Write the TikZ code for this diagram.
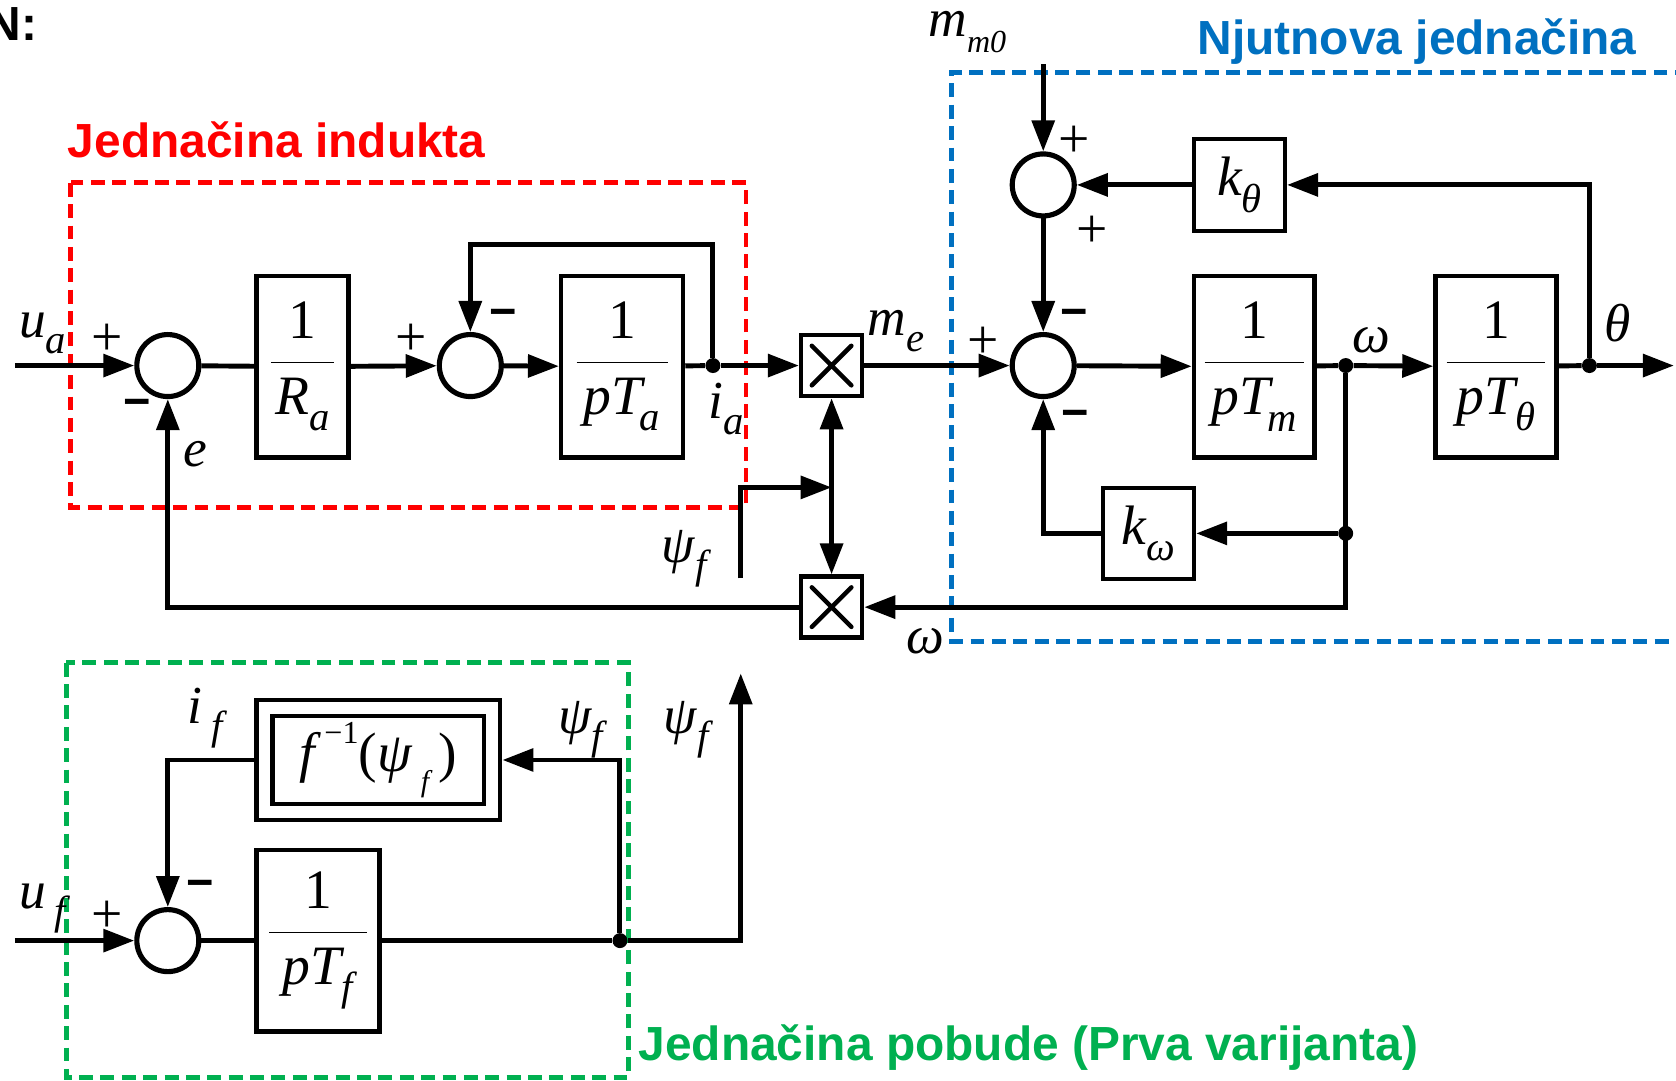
\RequirePackage{fix-cm}
\documentclass[tikz,border=0pt]{standalone}
\usepackage[no-math]{fontspec}
\newfontfamily\labfont{Liberation Sans}
\newfontfamily\mf{Liberation Serif}
\usetikzlibrary{arrows.meta}
\definecolor{cred}{RGB}{255,0,0}
\definecolor{cblue}{RGB}{0,112,192}
\definecolor{cgreen}{RGB}{0,176,80}
\newcommand{\lvar}[2]{{\mf\itshape #1\raisebox{-0.3em}{\fontsize{19}{20}\selectfont #2}}}
\newcommand{\lvarsm}[2]{{\mf\itshape #1\raisebox{-0.3em}{\fontsize{15}{16}\selectfont #2}}}
\newcommand{\bfr}[2]{$\displaystyle\frac{\mbox{\mf 1}}{\makebox[#1]{#2}}$}
\begin{document}
\begin{tikzpicture}[x=0.5pt,y=-0.5pt,
  ln/.style={line width=2.3pt},
  ar/.style={ln,-{Triangle[length=14.5pt,width=10.5pt]}},
  blk/.style={draw,line width=2.1pt,inner sep=0pt,font=\fontsize{26}{30}\selectfont},
  sumn/.style={draw,circle,line width=2.4pt,minimum size=29pt,inner sep=0pt},
  mul/.style={draw,line width=2.1pt,minimum size=28.5pt,inner sep=0pt,
    path picture={\draw[line width=2.1pt,line cap=round]
      ([shift={(5pt,-5pt)}]path picture bounding box.north west) -- ([shift={(-5pt,5pt)}]path picture bounding box.south east)
      ([shift={(-5pt,-5pt)}]path picture bounding box.north east) -- ([shift={(5pt,5pt)}]path picture bounding box.south west);}},
  dot/.style={circle,fill,inner sep=0pt,minimum size=7pt},
  lbl/.style={font=\fontsize{25}{29}\selectfont,inner sep=0pt},
  sgn/.style={font=\mf\fontsize{26}{28}\selectfont,inner sep=0pt},
  msg/.style={font=\labfont\bfseries\fontsize{22}{26}\selectfont,inner sep=0pt},
  ttl/.style={font=\labfont\bfseries\fontsize{22.4}{26}\selectfont,inner sep=0pt},
  dsh/.style={line width=2.2pt,dash pattern=on 6.5pt off 3.5pt}]
\useasboundingbox (0,0) rectangle (1568,1011);

% titles and group boxes
\node[ttl,anchor=base east] (tN) at (35,38) {N:};
\node[ttl,text=cred,anchor=base west] (tRed) at (63,147) {Jednačina indukta};
\node[ttl,text=cblue,anchor=base west] (tBlue) at (1120,51) {Njutnova jednačina};
\node[ttl,text=cgreen,anchor=base west] (tGreen) at (597,992) {Jednačina pobude (Prva varijanta)};
\draw[dsh,cred] (66,171) rectangle (698,475);
\draw[dsh,cblue] (1580,68) -- (890,68) -- (890,600) -- (1580,600);
\draw[dsh,cgreen] (62,620) rectangle (588,1008);

% armature equation
\node[sumn] (sumA) at (157,342) {};
\node[blk,minimum width=43pt,minimum height=85pt] (Ra) at (283,343) {\bfr{29.5pt}{\lvar{R}{a}}};
\node[sumn] (sumB) at (440,342) {};
\node[blk,minimum width=57pt,minimum height=85pt] (Ta) at (582,343) {\bfr{42.5pt}{\lvar{pT\kern-0.05em}{a}}};
\node[dot] (dotIa) at (667,342) {};
\node[mul] (multA) at (778,342) {};
\node[mul] (multB) at (778,568) {};

% Newton equation
\node[sumn] (sumC) at (976,342) {};
\node[sumn] (sumD) at (976,173) {};
\node[blk,minimum width=56.5pt,minimum height=85pt] (Tm) at (1173.5,343) {\bfr{46.5pt}{\lvar{pT\kern-0.05em}{m}}};
\node[dot] (dotW) at (1259,342) {};
\node[blk,minimum width=56.5pt,minimum height=85pt] (Tth) at (1399.5,343) {\bfr{46pt}{\lvar{pT}{θ}}};
\node[dot] (dotTh) at (1487,342) {};
\node[blk,minimum width=42.5pt,minimum height=43pt] (kth) at (1159.5,173) {\lvar{k}{θ}};
\node[blk,minimum width=42.5pt,minimum height=42.5pt] (kw) at (1074.5,499) {\lvar{k}{ω}};
\node[dot] (dotW2) at (1259,499) {};

% excitation
\node[sumn] (sumE) at (157,880) {};
\node[blk,minimum width=57.5pt,minimum height=85pt] (Tf) at (297.5,880) {\bfr{45.5pt}{\lvar{pT}{f}}};
\node[dot] (dotPsi) at (580,880) {};
\node[draw,line width=2.1pt,minimum width=114pt,minimum height=56pt,inner sep=0pt] (finv) at (354,711) {};
\node[blk,minimum width=99pt,minimum height=41pt] (finvIn) at (354,711)
  {{\mf\itshape f\,\raisebox{0.5em}{\fontsize{15}{16}\selectfont\upshape −1}\upshape(\itshape ψ\,\raisebox{-0.35em}{\fontsize{14}{15}\selectfont f}\,\upshape)}};

% free ends
\coordinate (ua) at (14,342);
\coordinate (uf) at (14,880);
\coordinate (thOut) at (1566,342);
\coordinate (mm0) at (976,60);
\coordinate (fbA) at (667,229);
\coordinate (psiS) at (693,541);
\coordinate (psiJ) at (778,456);
\coordinate (psiOut) at (693,630);

% connectors, armature
\draw[ar] (ua) -- (sumA);
\draw[ln] (sumA) -- (Ra);
\draw[ar] (Ra) -- (sumB);
\draw[ar] (sumB) -- (Ta);
\draw[ln] (Ta) -- (dotIa);
\draw[ar] (dotIa) -- (multA);
\draw[ar] (dotIa) -- (fbA) -| (sumB);
\draw[ln,{Triangle[length=14.5pt,width=10.5pt]}-{Triangle[length=14.5pt,width=10.5pt]}] (multA) -- (multB);
\draw[ar] (psiS) |- (psiJ);
\draw[ar] (multB) -| (sumA);

% connectors, Newton
\draw[ar] (multA) -- (sumC);
\draw[ar] (sumC) -- (Tm);
\draw[ln] (Tm) -- (dotW);
\draw[ar] (dotW) -- (Tth);
\draw[ln] (Tth) -- (dotTh);
\draw[ar] (dotTh) -- (thOut);
\draw[ar] (dotTh) |- (kth);
\draw[ar] (kth) -- (sumD);
\draw[ar] (mm0) -- (sumD);
\draw[ar] (sumD) -- (sumC);
\draw[ar] (dotW) |- (multB);
\draw[ar] (dotW2) -- (kw);
\draw[ar] (kw) -| (sumC);

% connectors, excitation
\draw[ar] (uf) -- (sumE);
\draw[ln] (sumE) -- (Tf);
\draw[ln] (Tf) -- (dotPsi);
\draw[ar] (dotPsi) -| (psiOut);
\draw[ar] (dotPsi) |- (finv);
\draw[ar] (finv) -| (sumE);

% labels
\node[lbl] (lua) at (40,312) {\lvar{u}{a}};
\node[lbl] (le) at (183,425) {{\mf\itshape e}};
\node[lbl] (lia) at (679,383) {\lvar{i}{a}};
\node[lbl] (lme) at (838,310) {\lvar{m}{e}};
\node[lbl] (lpsi1) at (640,523) {\lvar{ψ}{f}};
\node[lbl] (lmm0) at (905,30) {\lvarsm{m}{m0}};
\node[lbl] (lw1) at (1283,318) {{\mf\itshape ω}};
\node[lbl] (lth) at (1513,302) {{\mf\itshape θ}};
\node[lbl] (lw2) at (866,600) {{\mf\itshape ω}};
\node[lbl] (luf) at (40,850) {\lvar{u\,}{f}};
\node[lbl] (lif) at (192,672) {\lvar{i\,}{f}};
\node[lbl] (lpsi2) at (543,683) {\lvar{ψ}{f}};
\node[lbl] (lpsi3) at (642,683) {\lvar{ψ}{f}};

% signs
\node[sgn] (pA) at (100,318) {+};
\node[msg] (mA) at (128,382) {−};
\node[sgn] (pB) at (385,318) {+};
\node[msg] (mB) at (471,298) {−};
\node[sgn] (pC) at (920,321) {+};
\node[msg] (mC1) at (1005,298) {−};
\node[msg] (mC2) at (1006,392) {−};
\node[sgn] (pD1) at (1005,133) {+};
\node[sgn] (pD2) at (1022,217) {+};
\node[sgn] (pE) at (100,858) {+};
\node[msg] (mE) at (187,832) {−};
\end{tikzpicture}
\end{document}
